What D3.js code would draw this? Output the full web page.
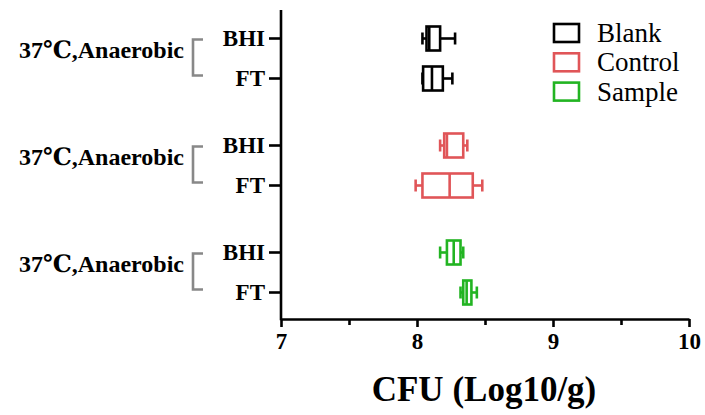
<!DOCTYPE html>
<html>
<head>
<meta charset="utf-8">
<script src="https://cdn.jsdelivr.net/npm/d3@7"></script>
<style>
  body { margin: 0; background: #fff; }
  svg { display: block; }
</style>
</head>
<body>
<svg id="chart" width="705" height="415"></svg>
<script>
// ---- data ----
const series = ["Blank", "Control", "Sample"];
const groupLabels = ["37℃,Anaerobic", "37℃,Anaerobic", "37℃,Anaerobic"];
const media = ["BHI", "FT"];
const colors = ["#000000", "#e05558", "#22b422"];
// box stats per series, per medium: [min, q1, median, q3, max]
const blankStats   = [[8.04, 8.07, 8.09, 8.17, 8.28], [8.04, 8.045, 8.11, 8.19, 8.26]];
const controlStats = [[8.17, 8.20, 8.22, 8.34, 8.37], [7.99, 8.04, 8.24, 8.41, 8.48]];
const sampleStats  = [[8.17, 8.22, 8.27, 8.32, 8.34], [8.32, 8.34, 8.365, 8.40, 8.44]];
const xTicks = [7, 8, 9, 10];
const xMinorTicks = [7.5, 8.5, 9.5];
const xTitle = "CFU (Log10/g)";

const FONT = "'Liberation Serif', 'Times New Roman', 'DejaVu Serif', serif";

const allStats = [blankStats, controlStats, sampleStats];
const rows = [];
series.forEach((s, gi) => media.forEach((m, mi) => {
  const st = allStats[gi][mi];
  rows.push({ series: s, medium: m, color: colors[gi],
    min: st[0], q1: st[1], med: st[2], q3: st[3], max: st[4] });
}));

// ---- layout ----
const svg = d3.select("#chart");
const axisX0 = 281, axisX1 = 689, axisY0 = 10, axisY1 = 319;
const x = d3.scaleLinear().domain([7, 10]).range([axisX0, axisX1]);
const outer = d3.scaleBand().domain(series).range([5, 326]).padding(0);
const inner = d3.scalePoint().domain(media).range([0, outer.bandwidth()]).padding(0.8375);
const yPos = (s, m) => outer(s) + inner(m);

const boxH = 24, capH = 12, sw = 2.6;

// x axis
const gx = svg.append("g").attr("transform", `translate(0,${axisY1})`);
gx.call(d3.axisBottom(x).tickValues(xTicks).tickSize(8).tickSizeOuter(0).tickFormat(d3.format("d")))
  .attr("font-family", FONT)
  .call(g => g.select(".domain").attr("stroke-width", sw))
  .call(g => g.selectAll(".tick line").attr("stroke-width", sw))
  .call(g => g.selectAll(".tick text").attr("y", 14)
    .style("font-family", FONT).style("font-size", "23px")
    .style("font-weight", "bold").attr("dy", "0.71em"));
const gxm = svg.append("g").attr("transform", `translate(0,${axisY1})`);
gxm.call(d3.axisBottom(x).tickValues(xMinorTicks).tickSize(6).tickFormat(""))
  .call(g => g.select(".domain").remove())
  .call(g => g.selectAll(".tick line").attr("stroke-width", sw));

// y axis
svg.append("line").attr("x1", axisX0).attr("x2", axisX0)
  .attr("y1", axisY0).attr("y2", axisY1 + 1.3)
  .attr("stroke", "#000").attr("stroke-width", sw);
const yt = svg.append("g").selectAll("g").data(rows).join("g")
  .attr("transform", d => `translate(${axisX0},${yPos(d.series, d.medium)})`);
yt.append("line").attr("x1", -12).attr("x2", 0).attr("stroke", "#000").attr("stroke-width", sw);
yt.append("text").attr("x", -16).attr("dy", 7.5).attr("text-anchor", "end")
  .style("font-family", FONT).style("font-size", "23px").style("font-weight", "bold").text(d => d.medium);

// group labels and brackets
const grp = svg.append("g").selectAll("g").data(series).join("g");
grp.append("text")
  .attr("x", 184).attr("y", s => outer(s) + outer.bandwidth() / 2 - 1)
  .attr("text-anchor", "end")
  .style("font-family", FONT).style("font-size", "24px").style("font-weight", "bold")
  .text((s, i) => groupLabels[i]);
grp.append("path")
  .attr("d", s => {
    const y0 = yPos(s, media[0]) + 1, y1 = yPos(s, media[1]) - 3;
    return `M203,${y0}H193V${y1}H203`;
  })
  .attr("fill", "none").attr("stroke", "#888").attr("stroke-width", 2.6);

// boxes
const bx = svg.append("g").selectAll("g").data(rows).join("g")
  .attr("transform", d => `translate(0,${yPos(d.series, d.medium)})`)
  .attr("stroke", d => d.color).attr("stroke-width", sw).attr("fill", "none");
bx.append("line").attr("x1", d => x(d.min)).attr("x2", d => x(d.q1));
bx.append("line").attr("x1", d => x(d.q3)).attr("x2", d => x(d.max));
bx.append("line").attr("x1", d => x(d.min)).attr("x2", d => x(d.min)).attr("y1", -capH / 2).attr("y2", capH / 2);
bx.append("line").attr("x1", d => x(d.max)).attr("x2", d => x(d.max)).attr("y1", -capH / 2).attr("y2", capH / 2);
bx.append("rect").attr("x", d => x(d.q1)).attr("width", d => x(d.q3) - x(d.q1))
  .attr("y", -boxH / 2).attr("height", boxH).attr("fill", "#fff");
bx.append("line").attr("x1", d => x(d.med)).attr("x2", d => x(d.med)).attr("y1", -boxH / 2).attr("y2", boxH / 2);

// legend
const lg = svg.append("g").selectAll("g").data(series).join("g")
  .attr("transform", (d, i) => `translate(554,${24 + i * 29.3})`);
lg.append("rect").attr("width", 25).attr("height", 18).attr("fill", "none")
  .attr("stroke", (d, i) => colors[i]).attr("stroke-width", sw);
lg.append("text").attr("x", 43).attr("y", 18)
  .style("font-family", FONT).style("font-size", "27px").text(d => d);

// x title
svg.append("text").attr("x", (axisX0 + axisX1) / 2 - 1).attr("y", 401)
  .attr("text-anchor", "middle")
  .style("font-family", FONT).style("font-size", "35px").style("font-weight", "bold")
  .text(xTitle);
</script>
</body>
</html>
